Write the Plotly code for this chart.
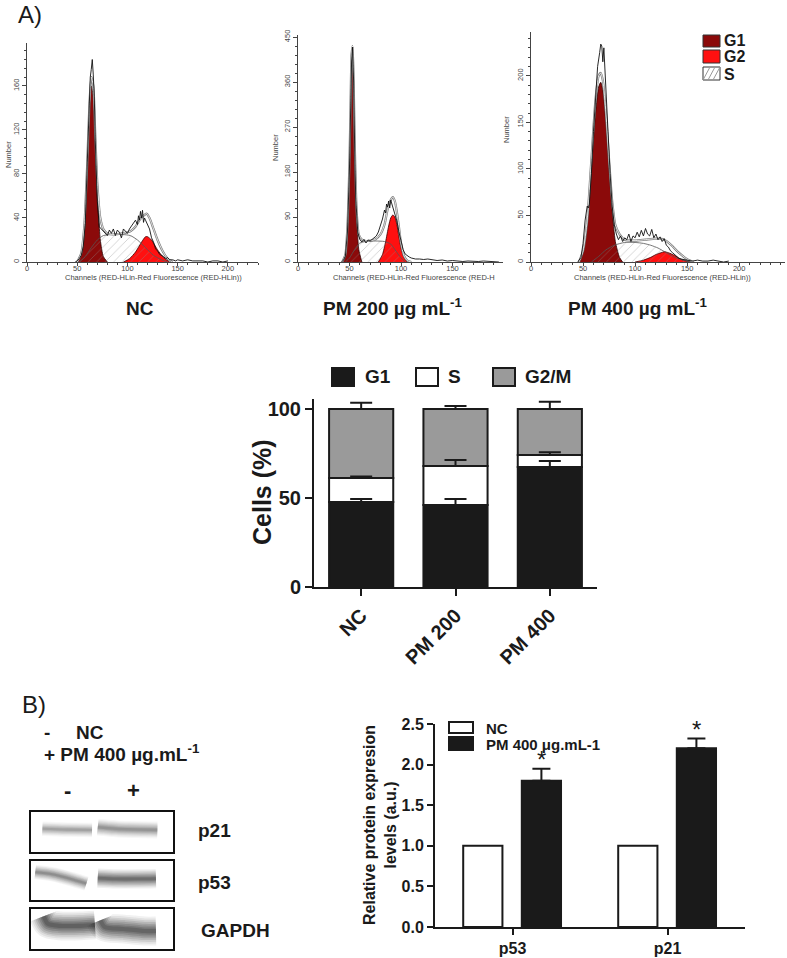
import plotly.graph_objects as go

W, H = 787, 958
FONT = "Liberation Sans, Arial, sans-serif"

# ---------------- A) cell-cycle histograms (channel, count) ----------------
# NC
nc_raw_ch = [48, 50, 52, 54, 56, 58, 60, 61, 62, 63, 64, 65, 66, 67, 68, 69, 70, 72, 74, 76, 78, 80, 82, 84, 86, 88,
             90, 92, 94, 96, 98, 100, 102, 104, 106, 108, 110, 111, 112, 113, 114, 115, 116, 117, 118, 120, 122, 124,
             126, 128, 130, 132, 134, 136, 138, 140, 142, 145, 148, 150, 155, 160, 165, 170, 175, 180, 185, 190, 195, 200]
nc_raw_n = [0, 1, 3, 6, 14, 35, 90, 120, 150, 168, 175, 184, 170, 150, 110, 80, 55, 32, 30, 28, 27, 24, 29, 26, 30, 24,
            29, 27, 22, 30, 28, 26, 30, 33, 35, 38, 34, 42, 38, 46, 40, 47, 36, 40, 38, 34, 30, 22,
            18, 12, 10, 7, 6, 5, 3, 4, 2, 2, 1, 2, 1, 2, 1, 1, 1, 0, 1, 1, 0, 1]
nc_fit_ch = [50, 54, 57, 60, 62, 64, 66, 68, 70, 73, 76, 80, 85, 95, 103, 108, 112, 116, 119, 122, 126, 130, 135, 140, 145]
nc_fit_n = [0, 8, 32, 90, 140, 168, 160, 115, 72, 40, 30, 26, 25, 26, 28, 32, 38, 42, 44, 40, 30, 20, 10, 3, 0]
nc_g1_ch = [50, 54, 57, 60, 62, 64, 66, 68, 70, 73, 76, 80]
nc_g1_n = [0, 8, 30, 85, 130, 160, 150, 105, 60, 20, 5, 0]
nc_s_ch = [52, 58, 64, 70, 76, 85, 95, 103, 110, 118, 126, 134, 140]
nc_s_n = [0, 5, 13, 20, 24, 25, 25, 24, 20, 13, 6, 2, 0]
nc_g2_ch = [96, 102, 108, 114, 118, 120, 124, 130, 136, 142]
nc_g2_n = [0, 3, 9, 18, 23, 23, 20, 11, 4, 0]
nc_peak_ch = [64, 115]

# PM 200
pm200_raw_ch = [42, 44, 46, 48, 50, 51, 52, 53, 54, 55, 56, 58, 60, 62, 64, 66, 68, 70, 72, 74, 76, 78, 80, 82, 84,
                85, 86, 87, 88, 89, 90, 91, 92, 94, 96, 98, 100, 102, 104, 106, 108, 110, 114, 118, 122, 126, 130,
                135, 140, 145, 150, 155, 160, 165, 170, 175, 180, 185, 190, 195]
pm200_raw_n = [0, 3, 12, 60, 190, 300, 400, 430, 360, 230, 130, 60, 45, 40, 45, 38, 44, 42, 46, 48, 52, 60, 72, 86, 104,
               98, 116, 110, 122, 108, 124, 115, 110, 96, 82, 60, 40, 25, 16, 12, 10, 8, 6, 6, 5, 6, 5,
               3, 4, 2, 3, 2, 1, 2, 1, 1, 2, 1, 1, 0]
pm200_fit_ch = [43, 46, 48, 50, 51, 52, 53, 54, 55, 57, 59, 62, 66, 75, 80, 84, 87, 90, 92, 94, 96, 98, 100, 103, 106, 110]
pm200_fit_n = [0, 15, 72, 205, 315, 415, 432, 365, 245, 100, 55, 45, 42, 45, 55, 75, 105, 124, 130, 122, 100, 70, 38, 12, 3, 0]
pm200_g1_ch = [43, 46, 48, 50, 51, 52, 53, 54, 55, 57, 59, 62]
pm200_g1_n = [0, 15, 70, 200, 310, 410, 430, 360, 240, 90, 25, 0]
pm200_s_ch = [46, 50, 55, 60, 66, 75, 84, 90, 95, 100, 104]
pm200_s_n = [0, 8, 25, 38, 41, 42, 41, 36, 22, 8, 0]
pm200_g2_ch = [78, 82, 85, 88, 90, 92, 94, 96, 98, 100, 103, 106]
pm200_g2_n = [0, 15, 40, 72, 88, 94, 90, 75, 50, 28, 8, 0]
pm200_peak_ch = [52, 90]

# PM 400
pm400_raw_ch = [45, 48, 50, 52, 54, 55, 56, 58, 60, 62, 64, 66, 67, 68, 69, 70, 72, 74, 76, 78, 80, 82, 84, 86, 88, 90,
                92, 94, 96, 98, 100, 102, 104, 106, 108, 110, 112, 114, 116, 118, 120, 122, 124, 126, 128, 130, 132,
                134, 136, 138, 140, 142, 145, 148, 150, 155, 160, 165, 170, 175, 180, 185, 190]
pm400_raw_n = [0, 5, 20, 45, 60, 58, 62, 95, 140, 180, 210, 225, 234, 232, 215, 230, 190, 140, 95, 60, 40, 30, 24, 28, 22,
               26, 24, 30, 22, 28, 26, 32, 27, 34, 28, 36, 30, 28, 35, 26, 30, 24, 27, 22, 25, 18, 16,
               12, 10, 8, 6, 4, 3, 2, 2, 1, 2, 1, 1, 2, 1, 0, 1]
pm400_fit_ch = [46, 50, 54, 58, 62, 65, 67, 69, 72, 75, 78, 81, 85, 90, 100, 110, 120, 128, 135, 142, 150, 156]
pm400_fit_n = [0, 12, 45, 110, 175, 200, 203, 195, 160, 110, 65, 40, 30, 24, 23, 24, 25, 24, 18, 10, 3, 0]
pm400_g1_ch = [46, 50, 54, 58, 62, 65, 67, 69, 72, 75, 78, 81, 85, 88]
pm400_g1_n = [0, 10, 40, 100, 160, 188, 193, 185, 150, 100, 55, 22, 5, 0]
pm400_s_ch = [58, 65, 72, 80, 90, 100, 108, 115, 122, 130, 138, 146, 152]
pm400_s_n = [0, 6, 13, 18, 21, 21, 20, 18, 15, 10, 5, 2, 0]
pm400_g2_ch = [100, 108, 115, 120, 125, 128, 132, 138, 144, 150, 156]
pm400_g2_n = [0, 2, 5, 8, 10, 11, 10, 7, 3, 1, 0]
pm400_peak_ch = [67]

# ---------------- A) stacked cell-cycle distribution (%) ----------------
groups = ["NC", "PM 200", "PM 400"]
g1_pct = [47.8, 46.1, 67.4]
s_pct = [13.4, 21.9, 6.8]
g2m_pct = [38.8, 32.0, 25.8]
g1_err = [1.6, 3.3, 3.4]
s_err = [0.8, 3.3, 1.5]
g2m_err = [3.5, 1.7, 4.0]

# ---------------- B) relative protein expression ----------------
proteins = ["p53", "p21"]
nc_level = [1.0, 1.0]
pm_level = [1.80, 2.20]
pm_err = [0.15, 0.12]

# ---------------- B) western blot bands (profile within box, darkness, thickness) ----------------
blot_rows = ["p21", "p53", "GAPDH"]
band_x = {"p21": [[0.08, 0.25, 0.43], [0.47, 0.6, 0.89]],
          "p53": [[0.03, 0.15, 0.3, 0.39], [0.47, 0.6, 0.75, 0.88]],
          "GAPDH": [[0.09, 0.12, 0.2, 0.35, 0.45], [0.49, 0.52, 0.65, 0.8, 0.88]]}
band_y = {"p21": [[0.58, 0.56, 0.55], [0.62, 0.58, 0.55]],
          "p53": [[0.72, 0.66, 0.52, 0.42], [0.56, 0.54, 0.54, 0.55]],
          "GAPDH": [[0.82, 0.63, 0.58, 0.58, 0.6], [0.72, 0.55, 0.5, 0.45, 0.45]]}
band_dark = {"p21": [0.5, 0.6], "p53": [0.65, 0.95], "GAPDH": [1.1, 1.05]}
band_thick = {"p21": [6, 7], "p53": [6, 8], "GAPDH": [12, 12]}


def cl(v):
    return min(1.0, max(0.0, v))


def px(x):
    return x / W


def py(y):
    return 1 - y / H


def xd(a, b):
    return [cl(px(a)), cl(px(b))]


def yd(top, bottom):
    return [cl(py(bottom)), cl(py(top))]


fig = go.Figure()
layout_axes = {}

hist_specs = [
    dict(raw=(nc_raw_ch, nc_raw_n), fit=(nc_fit_ch, nc_fit_n), g1=(nc_g1_ch, nc_g1_n), s=(nc_s_ch, nc_s_n),
         g2=(nc_g2_ch, nc_g2_n), peaks=nc_peak_ch, xdom=(27, 258), ydom=(43, 262), xr=230, yr=199, ydt=40, ymn=8),
    dict(raw=(pm200_raw_ch, pm200_raw_n), fit=(pm200_fit_ch, pm200_fit_n), g1=(pm200_g1_ch, pm200_g1_n),
         s=(pm200_s_ch, pm200_s_n), g2=(pm200_g2_ch, pm200_g2_n), peaks=pm200_peak_ch,
         xdom=(298, 503), ydom=(35, 262), xr=199, yr=454, ydt=90, ymn=18),
    dict(raw=(pm400_raw_ch, pm400_raw_n), fit=(pm400_fit_ch, pm400_fit_n), g1=(pm400_g1_ch, pm400_g1_n),
         s=(pm400_s_ch, pm400_s_n), g2=(pm400_g2_ch, pm400_g2_n), peaks=pm400_peak_ch,
         xdom=(531, 785), ydom=(32, 262), xr=244, yr=247, ydt=50, ymn=10),
]

AXC = "#444444"
for i, sp in enumerate(hist_specs, start=1):
    xa = "x" if i == 1 else f"x{i}"
    ya = "y" if i == 1 else f"y{i}"
    cm = dict(xaxis=xa, yaxis=ya, showlegend=False, hoverinfo="skip")
    fig.add_trace(go.Scatter(x=sp["g1"][0], y=sp["g1"][1], mode="lines", fill="tozeroy", fillcolor="#8b0a0a",
                             line=dict(color="#2a0000", width=0.8, shape="spline", smoothing=0.6), **cm))
    fig.add_trace(go.Scatter(x=sp["g2"][0], y=sp["g2"][1], mode="lines", fill="tozeroy", fillcolor="#ff1010",
                             line=dict(color="#3a0000", width=0.8, shape="spline", smoothing=0.6), **cm))
    fig.add_trace(go.Scatter(x=sp["s"][0], y=sp["s"][1], mode="lines", fill="tozeroy", fillcolor="rgba(0,0,0,0)",
                             fillpattern=dict(shape="/", fgcolor="#8c8c8c", size=6, solidity=0.12),
                             line=dict(color="#555555", width=0.8, shape="spline", smoothing=0.6), **cm))
    fig.add_trace(go.Scatter(x=sp["fit"][0], y=sp["fit"][1], mode="lines",
                             line=dict(color="#7a7a7a", width=2.2, shape="spline", smoothing=0.6), **cm))
    fig.add_trace(go.Scatter(x=sp["fit"][0], y=sp["fit"][1], mode="lines",
                             line=dict(color="#ffffff", width=0.8, shape="spline", smoothing=0.6), **cm))
    fig.add_trace(go.Scatter(x=sp["raw"][0], y=sp["raw"][1], mode="lines",
                             line=dict(color="#111111", width=0.9), **cm))
    fig.add_trace(go.Scatter(x=sp["peaks"], y=[-0.018 * sp["yr"]] * len(sp["peaks"]), mode="markers",
                             marker=dict(symbol="triangle-up", size=8, color="black"), cliponaxis=False, **cm))
    xk = "xaxis" if i == 1 else f"xaxis{i}"
    yk = "yaxis" if i == 1 else f"yaxis{i}"
    layout_axes[xk] = dict(domain=xd(*sp["xdom"]), anchor=ya, range=[0, sp["xr"]], showline=True, linecolor=AXC,
                           linewidth=1, ticks="outside", ticklen=3, tickcolor=AXC, tickvals=[0, 50, 100, 150, 200],
                           ticklabelstandoff=-4,
                           tickfont=dict(size=7.5, color=AXC, family=FONT), showgrid=False, zeroline=False,
                           minor=dict(dtick=10, ticks="outside", ticklen=2, tickcolor=AXC))
    layout_axes[yk] = dict(domain=yd(*sp["ydom"]), anchor=xa, range=[0, sp["yr"]], showline=True, linecolor=AXC,
                           linewidth=1, ticks="outside", ticklen=4, tickcolor=AXC, dtick=sp["ydt"], tickangle=-90,
                           tickfont=dict(size=7.5, color=AXC, family=FONT), showgrid=False, zeroline=False,
                           minor=dict(dtick=sp["ymn"], ticks="outside", ticklen=2, tickcolor=AXC))

# ---------------- stacked bar chart (axis 4) ----------------
BW = 0.68
s_base = list(g1_pct)
g2m_base = [a + b for a, b in zip(g1_pct, s_pct)]
tops = [a + b + c for a, b, c in zip(g1_pct, s_pct, g2m_pct)]
for vals, base, col in [(g1_pct, None, "#1a1a1a"), (s_pct, s_base, "#ffffff"), (g2m_pct, g2m_base, "#9a9a9a")]:
    fig.add_trace(go.Bar(x=groups, y=vals, base=base, width=BW, marker=dict(color=col, line=dict(color="#1a1a1a", width=2)),
                         xaxis="x4", yaxis="y4", showlegend=False, hoverinfo="skip"))
for ys, errs in [(g1_pct, g1_err), (g2m_base, s_err), (tops, g2m_err)]:
    fig.add_trace(go.Scatter(x=groups, y=ys, mode="markers", marker=dict(size=1, color="rgba(0,0,0,0)"),
                             error_y=dict(type="data", array=errs, arrayminus=[0] * len(errs), symmetric=False,
                                          color="#1a1a1a", thickness=2, width=11),
                             xaxis="x4", yaxis="y4", showlegend=False, hoverinfo="skip"))
layout_axes["xaxis4"] = dict(domain=xd(314, 597), anchor="y4", type="category", range=[-0.5, 2.5], showline=True,
                             linecolor="#1a1a1a", linewidth=2, ticks="outside", ticklen=7, tickwidth=2,
                             tickcolor="#1a1a1a", tickangle=-45,
                             tickfont=dict(size=20, color="#1a1a1a", family=FONT, weight="bold"),
                             showgrid=False, zeroline=False)
layout_axes["yaxis4"] = dict(domain=yd(399, 587), anchor="x4", range=[0, 105.6], tickvals=[0, 50, 100], showline=True,
                             linecolor="#1a1a1a", linewidth=2, ticks="outside", ticklen=7, tickwidth=2,
                             tickcolor="#1a1a1a", tickfont=dict(size=20, color="#1a1a1a", family=FONT, weight="bold"),
                             showgrid=False, zeroline=False)

# ---------------- B) protein expression bar chart (axis 5) ----------------
PBW = 0.253
PM_OFF = 0.06
fig.add_trace(go.Bar(x=proteins, y=nc_level, width=PBW, offset=-0.318,
                     marker=dict(color="#ffffff", line=dict(color="#1a1a1a", width=2)),
                     xaxis="x5", yaxis="y5", showlegend=False, hoverinfo="skip"))
fig.add_trace(go.Bar(x=proteins, y=pm_level, width=PBW, offset=PM_OFF,
                     marker=dict(color="#1a1a1a", line=dict(color="#1a1a1a", width=2)),
                     error_y=dict(type="data", array=pm_err, arrayminus=[0] * len(pm_err), symmetric=False,
                                  color="#1a1a1a", thickness=2, width=9),
                     xaxis="x5", yaxis="y5", showlegend=False, hoverinfo="skip"))
layout_axes["xaxis5"] = dict(domain=xd(435, 745), anchor="y5", type="category", range=[-0.5, 1.5], showline=True,
                             linecolor="#1a1a1a", linewidth=2, ticks="outside", ticklen=6, tickwidth=2,
                             tickcolor="#1a1a1a", tickfont=dict(size=16, color="#1a1a1a", family=FONT, weight="bold"),
                             showgrid=False, zeroline=False)
layout_axes["yaxis5"] = dict(domain=yd(724, 927), anchor="x5", range=[0, 2.5], dtick=0.5, tickformat=".1f",
                             showline=True, linecolor="#1a1a1a", linewidth=2, ticks="outside", ticklen=6, tickwidth=2,
                             tickcolor="#1a1a1a", tickfont=dict(size=16, color="#1a1a1a", family=FONT, weight="bold"),
                             showgrid=False, zeroline=False)

# ---------------- western blot boxes (axes 6-8) ----------------
blot_boxes = {"p21": (812, 852), "p53": (861, 900), "GAPDH": (909, 949)}
blur_layers = [(2.4, 0.06), (2.1, 0.07), (1.8, 0.09), (1.5, 0.11), (1.2, 0.13), (0.9, 0.15), (0.6, 0.17), (0.35, 0.18)]
for k, name in enumerate(blot_rows, start=6):
    for lane in range(2):
        d = band_dark[name][lane]
        t = band_thick[name][lane]
        for wmul, amul in blur_layers:
            fig.add_trace(go.Scatter(x=band_x[name][lane], y=band_y[name][lane], mode="lines",
                                     line=dict(color=f"rgba(25,25,25,{min(1, d * amul):.3f})", width=t * wmul,
                                               shape="spline", smoothing=0.8),
                                     xaxis=f"x{k}", yaxis=f"y{k}", showlegend=False, hoverinfo="skip"))
    top, bot = blot_boxes[name]
    layout_axes[f"xaxis{k}"] = dict(domain=xd(31, 173), anchor=f"y{k}", range=[0, 1], showline=True, mirror=True,
                                    linecolor="#111111", linewidth=2, showticklabels=False, ticks="",
                                    showgrid=False, zeroline=False)
    layout_axes[f"yaxis{k}"] = dict(domain=yd(top, bot), anchor=f"x{k}", range=[0, 1], showline=True, mirror=True,
                                    linecolor="#111111", linewidth=2, showticklabels=False, ticks="",
                                    showgrid=False, zeroline=False)

# ---------------- annotations ----------------
ann = []


def txt(text, x, y, size, bold=False, xanchor="center", yanchor="middle", angle=0, color="#1a1a1a"):
    ann.append(dict(text=text, x=px(x), y=py(y), xref="paper", yref="paper", showarrow=False, xanchor=xanchor,
                    yanchor=yanchor, textangle=angle,
                    font=dict(size=size, color=color, family=FONT, weight="bold" if bold else "normal")))


txt("A)", 16, 15, 24, xanchor="left")
txt("B)", 20, 704, 24, xanchor="left")
txt("NC", 140, 308, 19, bold=True)
txt("PM 200 µg mL<sup>-1</sup>", 393, 307, 19, bold=True)
txt("PM 400 µg mL<sup>-1</sup>", 638, 307, 19, bold=True)
for x, y in [(8, 155), (275, 148), (506, 130)]:
    txt("Number", x, y, 7.5, angle=-90, color=AXC)
txt("Channels (RED-HLin-Red Fluorescence (RED-HLin))", 153, 277, 7.5, color=AXC)
txt("Channels (RED-HLin-Red Fluorescence (RED-H", 331, 277, 7.5, color=AXC, xanchor="left")
txt("Channels (RED-HLin-Red Fluorescence (RED-HLin))", 662, 277, 7.5, color=AXC)
txt("G1", 722, 41, 16, bold=True, xanchor="left")
txt("G2", 722, 57, 16, bold=True, xanchor="left")
txt("S", 722, 74, 16, bold=True, xanchor="left")
# stacked chart legend + title
txt("G1", 363, 377, 19, bold=True, xanchor="left")
txt("S", 446, 377, 19, bold=True, xanchor="left")
txt("G2/M", 523, 377, 19, bold=True, xanchor="left")
txt("Cells (%)", 262, 492, 25, bold=True, angle=-90)
# blot header
txt("-", 42, 732, 19, bold=True, xanchor="left")
txt("NC", 74, 732, 19, bold=True, xanchor="left")
txt("+ PM 400 µg.mL<sup>-1</sup>", 42, 753, 19, bold=True, xanchor="left")
txt("-", 67, 790, 22, bold=True)
txt("+", 133, 790, 22, bold=True)
txt("p21", 196, 830, 19, bold=True, xanchor="left")
txt("p53", 196, 882, 19, bold=True, xanchor="left")
txt("GAPDH", 199, 930, 19, bold=True, xanchor="left")
# protein chart
txt("Relative protein expresion<br>levels (a.u.)", 380, 825, 16, bold=True, angle=-90)
txt("NC", 484, 728, 15, bold=True, xanchor="left")
txt("PM 400 μg.mL-1", 484, 744, 15, bold=True, xanchor="left")
for i, (v, e) in enumerate(zip(pm_level, pm_err)):
    ann.append(dict(text="*", x=i + PM_OFF + PBW / 2, y=v + e + 0.17, xref="x5", yref="y5", showarrow=False,
                    xanchor="center", yanchor="middle", yshift=-5,
                    font=dict(size=24, color="#1a1a1a", family=FONT)))

# ---------------- legend swatches (layout shapes) ----------------
shapes = []


def rect(x0, y0, x1, y1, fill, lw=2, lc="#1a1a1a"):
    shapes.append(dict(type="rect", xref="paper", yref="paper", x0=px(x0), x1=px(x1), y0=py(y1), y1=py(y0),
                       fillcolor=fill, line=dict(color=lc, width=lw)))


rect(703, 35, 720, 47, "#8b0a0a", lw=1, lc="#333")
rect(703, 50, 720, 63, "#ff1010", lw=1, lc="#333")
rect(703, 67, 720, 80, "#ffffff", lw=1, lc="#333")
for x0 in [703, 708, 713]:
    shapes.append(dict(type="line", xref="paper", yref="paper", x0=px(x0), y0=py(80), x1=px(x0 + 7), y1=py(67),
                       line=dict(color="#999999", width=1)))
rect(332, 368, 354, 386, "#1a1a1a")
rect(416, 368, 438, 386, "#ffffff")
rect(493, 368, 515, 386, "#9a9a9a")
rect(449, 722, 473, 733, "#ffffff")
rect(449, 737, 473, 750, "#1a1a1a")

fig.update_layout(autosize=True, margin=dict(l=0, r=0, t=0, b=0, autoexpand=False),
                  paper_bgcolor="white", plot_bgcolor="white",
                  barmode="overlay", showlegend=False, annotations=ann, shapes=shapes, font=dict(family=FONT),
                  **layout_axes)

# let the figure fill the browser window exactly, pinned to its top-left corner
pin = ("document.body.style.margin='0';document.body.style.overflow='hidden';"
       "var gd=document.getElementById('{plot_id}');gd.style.position='fixed';"
       "gd.style.left='0px';gd.style.top='0px';Plotly.Plots.resize(gd);")
fig.write_html("out.html", default_width="100vw", default_height="100vh",
               config={"displayModeBar": False, "responsive": True}, post_script=pin)
